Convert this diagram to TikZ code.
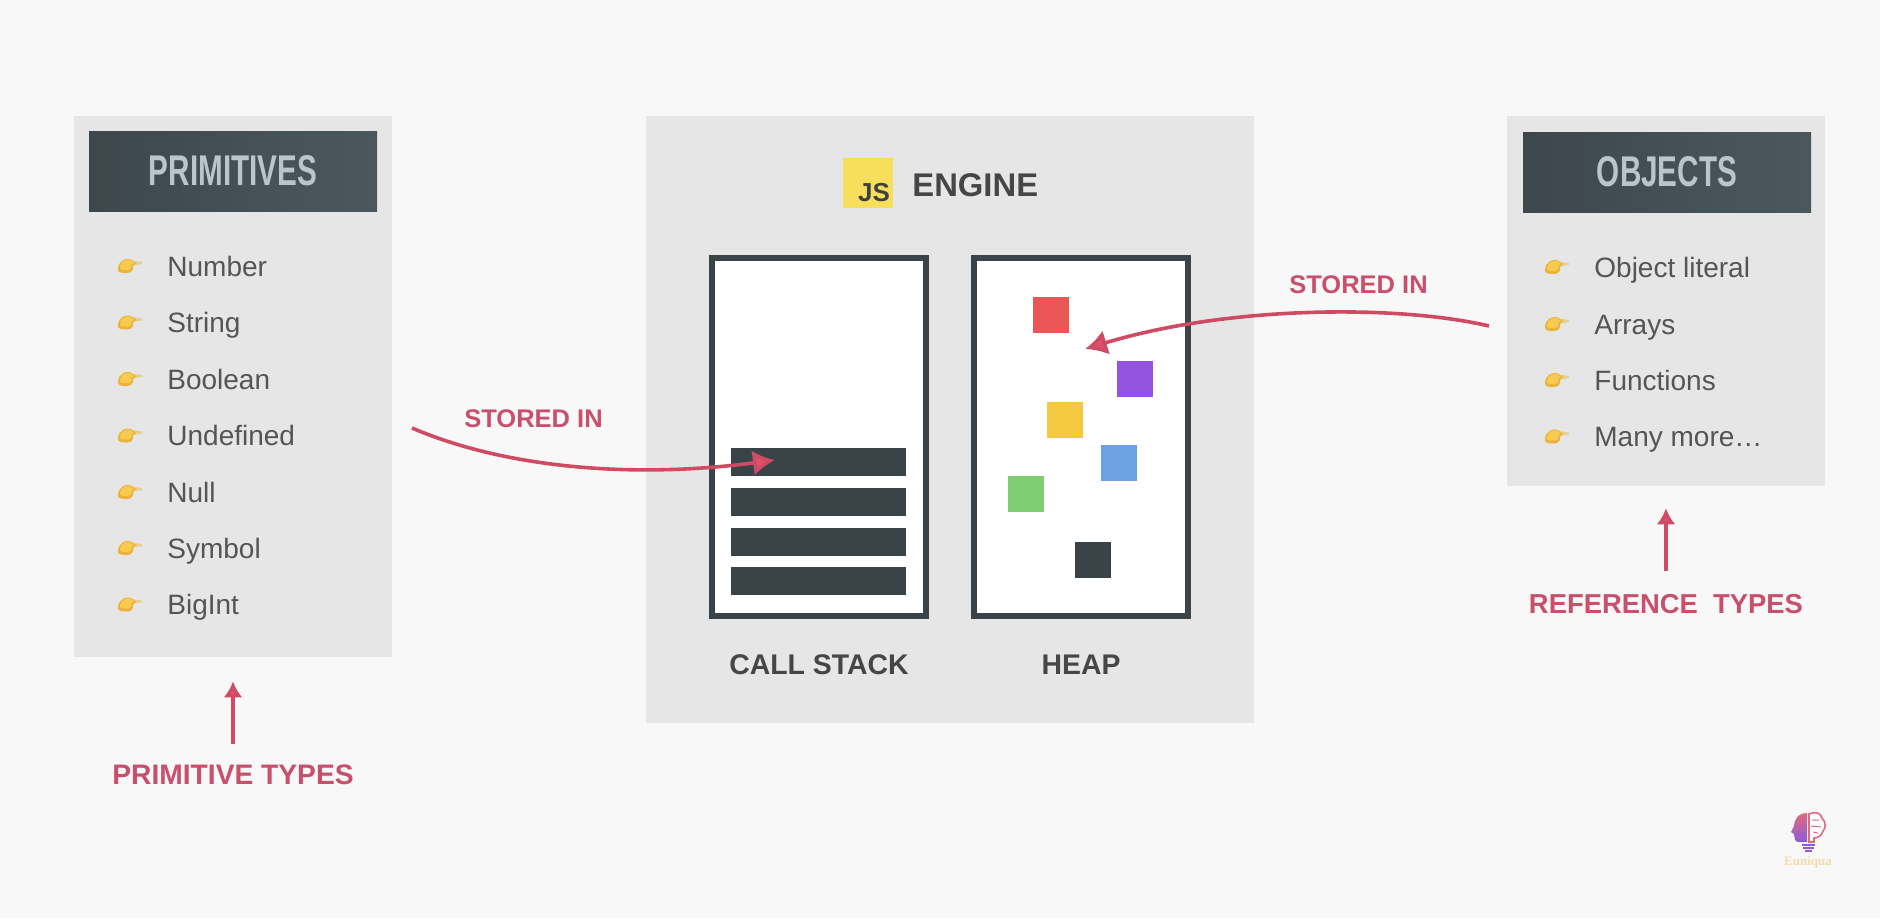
\documentclass[tikz,border=0pt]{standalone}
\usepackage{fontspec}
\setmainfont{Liberation Sans}
\newfontfamily\condfont[FakeStretch=0.69]{Liberation Sans}
\newfontfamily\markfont{Liberation Serif}
\usetikzlibrary{arrows.meta,shadings}
\definecolor{bgc}{HTML}{F8F8F8}
\definecolor{panelc}{HTML}{E6E6E6}
\definecolor{darkc}{HTML}{3A4347}
\definecolor{headl}{HTML}{3D474C}
\definecolor{headr}{HTML}{4A585E}
\definecolor{headtxt}{HTML}{B8C6CA}
\definecolor{txtc}{HTML}{555555}
\definecolor{lblc}{HTML}{444648}
\definecolor{redlbl}{HTML}{C9506C}
\definecolor{arrowc}{HTML}{CF4B63}
\definecolor{arrowh}{HTML}{E0506A}
\definecolor{handc}{HTML}{F6CB50}
\definecolor{handd}{HTML}{EDB23C}
\definecolor{handf}{HTML}{E6CF95}
\definecolor{jsc}{HTML}{F7DF5C}
\definecolor{brainc}{HTML}{E06A7E}
\definecolor{bulbc}{HTML}{8F5AD8}
\tikzset{
  panel/.style={fill=panelc,draw=none,inner sep=0pt},
  headbox/.style={left color=headl,right color=headr,draw=none,minimum width=144pt,minimum height=40pt,inner sep=0pt,text=headtxt,font=\condfont\bfseries\fontsize{21.5}{24}\selectfont},
  memory/.style={draw=darkc,line width=2.6pt,fill=white,minimum width=107pt,minimum height=179pt,inner sep=0pt},
  bar/.style={fill=darkc,minimum width=87.5pt,minimum height=14pt,inner sep=0pt},
  sq/.style={minimum size=18pt,inner sep=0pt},
  item/.style={anchor=base west,inner sep=0pt,text=txtc,font=\fontsize{14}{16}\selectfont},
  lbl/.style={inner sep=0pt,text=lblc,font=\bfseries\fontsize{14.2}{16}\selectfont},
  redtext/.style={inner sep=0pt,text=redlbl,font=\bfseries\fontsize{14.1}{16}\selectfont},
  storedtext/.style={inner sep=0pt,text=redlbl,font=\bfseries\fontsize{12.75}{15}\selectfont},
  curvearrow/.style={draw=arrowc,line width=1.8pt,-{Latex[length=11pt,width=12.5pt,fill=arrowh]}},
  uparrow/.style={draw=arrowc,line width=1.6pt,-{Latex[length=8pt,width=9.5pt,fill=arrowh]}},
  hand/.pic={
    \fill[handf] (-2,-6) -- (12,-4) -- (12,-2) -- (0,0) -- cycle;
    \fill[handd] (-12,2) .. controls (-11,-5) and (-5,-8) .. (0,-7) -- (6,-3) -- (3,0) .. controls (4,3) and (2,7) .. (-3,7) .. controls (-8,7) and (-13,7) .. (-12,2) -- cycle;
    \fill[handc] (-10,1) .. controls (-9,-5) and (-4,-7) .. (0,-6) -- (4,-3) -- (1,-1) .. controls (3,1) and (0,4) .. (-3,4) .. controls (-7,4) and (-11,4) .. (-10,1) -- cycle;
  }
}
\begin{document}
\begin{tikzpicture}[x=0.5pt,y=-0.5pt]
\useasboundingbox (0,0) rectangle (1880,918);
\fill[bgc] (0,0) rectangle (1880,918);

% panels
\node[panel,minimum width=159pt,minimum height=270.5pt] (prim) at (233,386.5) {};
\node[panel,minimum width=159pt,minimum height=185pt] (obj) at (1666,301) {};
\node[panel,minimum width=304pt,minimum height=303.5pt] (engine) at (950,419.5) {};

% headers
\node[headbox] (primhead) at (233,171) {PRIMITIVES};
\node[headbox] (objhead) at (1667,172) {OBJECTS};

% lists
\foreach \y/\t [count=\i] in {266/Number,322.5/String,379/Boolean,435.5/Undefined,492/Null,548/Symbol,604.5/BigInt}{
  \pic at (130,\y) {hand};
  \node[item] (p\i) at (167,\y+10) {\t};
}
\foreach \y/\t [count=\i] in {267/Object literal,324/Arrays,380/Functions,436.5/Many more\ldots}{
  \pic at (1557,\y) {hand};
  \node[item] (o\i) at (1594,\y+10) {\t};
}

% engine title
\node[fill=jsc,minimum size=25pt,inner sep=0pt] (jsbox) at (867.5,182.5) {};
\node[inner sep=0pt,text=black!75,font=\bfseries\fontsize{13}{15}\selectfont] (jstext) at (874,192.5) {JS};
\node[lbl,font=\bfseries\fontsize{16.4}{18}\selectfont,anchor=west] (enginetitle) at (912,185.5) {ENGINE};

% call stack
\node[memory] (stack) at (819,437) {};
\node[bar] (b1) at (818.5,461.5) {};
\node[bar] (b2) at (818.5,502) {};
\node[bar] (b3) at (818.5,541.5) {};
\node[bar] (b4) at (818.5,581) {};
\node[lbl] (stacklabel) at (819,665) {CALL STACK};

% heap
\node[memory] (heap) at (1081,437) {};
\node[sq,fill={rgb,255:red,235;green,87;blue,87}] (s1) at (1051,314.5) {};
\node[sq,fill={rgb,255:red,149;green,84;blue,224}] (s2) at (1135,378.5) {};
\node[sq,fill={rgb,255:red,244;green,201;blue,64}] (s3) at (1065,419.5) {};
\node[sq,fill={rgb,255:red,108;green,162;blue,226}] (s4) at (1119,462.5) {};
\node[sq,fill={rgb,255:red,126;green,205;blue,112}] (s5) at (1026,493.5) {};
\node[sq,fill=darkc] (s6) at (1093,559.5) {};
\node[lbl] (heaplabel) at (1081,665) {HEAP};

% labels
\node[storedtext] (storedl) at (533.5,419) {STORED IN};
\node[storedtext] (storedr) at (1358.5,285) {STORED IN};
\node[redtext] (primtypes) at (233,775) {PRIMITIVE TYPES};
\node[redtext,font=\bfseries\fontsize{13.7}{16}\selectfont] (reftypes) at (1666,604.5) {REFERENCE\ \ TYPES};

% connectors
\coordinate (ls) at (412,428);
\coordinate (le) at (775,460);
\coordinate (rs) at (1489,326);
\coordinate (re) at (1085,349);
\draw[curvearrow] (ls) .. controls (510,470) and (640,478) .. (le);
\draw[curvearrow] (rs) .. controls (1400,305) and (1230,305) .. (re);
\draw[uparrow] ([yshift=10.5pt]primtypes.north) -- ([yshift=-12pt]prim.south);
\draw[uparrow] ([yshift=11.5pt]reftypes.north) -- ([yshift=-11pt]obj.south);

% watermark
\shade[top color=brainc,bottom color=bulbc]
  (1807,813) .. controls (1798,813) and (1794,820) .. (1794,826) -- (1791,832) -- (1794,834) -- (1795,840) .. controls (1796,842) and (1798,842) .. (1800,842) -- (1807,842) -- cycle;
\draw[draw=brainc,line width=0.8pt,fill=white]
  (1809,814) .. controls (1815,811) and (1821,813) .. (1822,818) .. controls (1826,822) and (1826,828) .. (1823,831) .. controls (1822,836) and (1817,838) .. (1814,838) -- (1814,842) -- (1809,842) -- cycle;
\draw[draw=brainc,line width=0.5pt] (1812,820) -- (1819,820) (1811,826) -- (1821,827) (1813,832) -- (1818,833);
\draw[draw=bulbc,line width=0.8pt] (1802,845) -- (1815,845) (1803,848) -- (1814,848) (1805,851) -- (1812,851);
\node[inner sep=0pt,text={rgb,255:red,246;green,219;blue,172},font=\markfont\bfseries\fontsize{6.5}{8}\selectfont] (wm) at (1808,862) {Euniqua};
\end{tikzpicture}
\end{document}
